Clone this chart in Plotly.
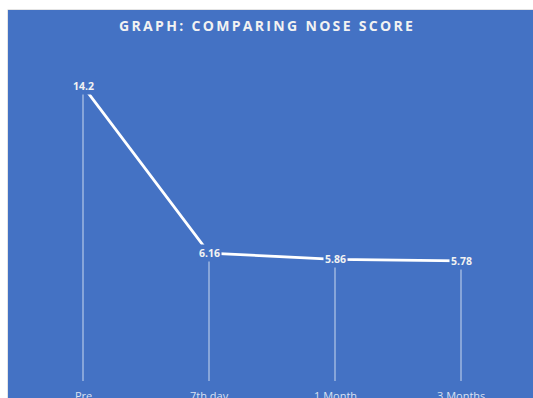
import plotly.graph_objects as go

categories = ["Pre", "7th day", "1 Month", "3 Months"]
scores = [14.2, 6.16, 5.86, 5.78]
score_labels = ["14.2", "6.16", "5.86", "5.78"]
title_text = "GRAPH: COMPARING NOSE SCORE"

BLUE = "#4472C4"
W, H = 533, 398
# plot area = the blue panel
L, R, T, B = 8, 0, 10, 0
PW, PH = W - L - R, H - T - B

X0_PX, X_STEP = 83.0, 126.0      # first category centre, spacing (px)
Y0_PX, Y_UNIT = 381.0, 20.77     # value-0 position, px per unit

x_range = [(L - X0_PX) / X_STEP, (W - R - X0_PX) / X_STEP]
y_range = [(Y0_PX - (H - B)) / Y_UNIT, (Y0_PX - T) / Y_UNIT]

fig = go.Figure()

# drop lines
dx, dy = [], []
for c, v in zip(categories, scores):
    dx += [c, c, None]
    dy += [v, 0, None]
fig.add_trace(go.Scatter(x=dx, y=dy, mode="lines",
                         line=dict(color="rgba(255,255,255,0.72)", width=1),
                         hoverinfo="skip", showlegend=False))

fig.add_trace(go.Scatter(x=categories, y=scores, mode="lines",
                         line=dict(color="white", width=2.75),
                         showlegend=False))

for c, v, t in zip(categories, scores, score_labels):
    fig.add_annotation(x=c, y=v, text="<b>" + t + "</b>", showarrow=False,
                       xref="x", yref="y", bgcolor=BLUE, borderpad=1,
                       font=dict(family="Open Sans", size=10.5, color="#F2F2F2"))

# category labels (partly cut off at the bottom edge, as in the reference)
label_top_px = 386.5
for c in categories:
    fig.add_annotation(x=c, y=(Y0_PX - label_top_px) / Y_UNIT, xref="x", yref="y",
                       text=c, showarrow=False, yanchor="top", xanchor="center",
                       borderpad=0,
                       font=dict(family="Open Sans", size=11, color="#D9E1F2"))

spaced_title = "\u2009".join(title_text)
fig.add_annotation(x=(266 - L) / PW, y=(H - B - 25.5) / PH,
                   xref="paper", yref="paper",
                   text="<b>" + spaced_title + "</b>", showarrow=False,
                   xanchor="center", yanchor="middle",
                   font=dict(family="Open Sans", size=14, color="#F2F2F2"))

# white strips outside the panel (left and top)
fig.add_shape(type="rect", xref="paper", yref="paper",
              x0=-L / PW, x1=-0.5 / PW, y0=-B / PH, y1=(PH + T) / PH,
              fillcolor="white", line_width=0, layer="above")
fig.add_shape(type="rect", xref="paper", yref="paper",
              x0=-L / PW, x1=1, y0=(PH + 0.5) / PH, y1=(PH + T) / PH,
              fillcolor="white", line_width=0, layer="above")

fig.update_layout(
    width=W, height=H,
    margin=dict(l=L, r=R, t=T, b=B, pad=0, autoexpand=False),
    paper_bgcolor=BLUE, plot_bgcolor=BLUE,
    xaxis=dict(type="category", range=x_range, showgrid=False,
               zeroline=False, showline=True, linecolor="#C8C8C8", linewidth=1,
               side="top", showticklabels=False, ticks="", automargin=False),
    yaxis=dict(range=y_range, showgrid=False, zeroline=False, showline=True,
               linecolor="#C8C8C8", linewidth=1, showticklabels=False,
               ticks="", automargin=False),
)

fig.write_html("out.html")
